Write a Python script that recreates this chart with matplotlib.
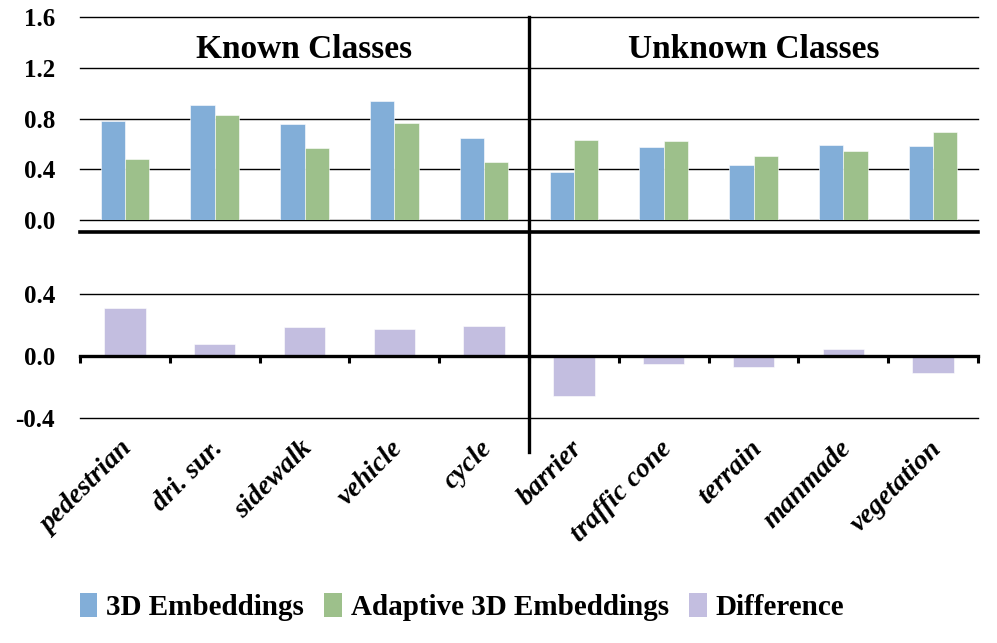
import numpy as np
import matplotlib
matplotlib.use('Agg')
from matplotlib import pyplot as plt
from matplotlib.lines import Line2D
from matplotlib.patches import Patch
import matplotlib.transforms as mtransforms

classes = ['pedestrian', 'dri. sur.', 'sidewalk', 'vehicle', 'cycle',
           'barrier', 'traffic cone', 'terrain', 'manmade', 'vegetation']
emb3d = [0.784, 0.908, 0.758, 0.937, 0.650, 0.376, 0.574, 0.437, 0.589, 0.584]
adaptive = [0.479, 0.826, 0.571, 0.763, 0.458, 0.629, 0.621, 0.503, 0.542, 0.692]
difference = [0.307, 0.080, 0.189, 0.173, 0.192, -0.256, -0.049, -0.068, 0.045, -0.111]
group_names = ['Known Classes', 'Unknown Classes']
top_ticks = [0.0, 0.4, 0.8, 1.2, 1.6]
bot_ticks = [-0.4, 0.0, 0.4]

c_blue = '#82AED8'
c_green = '#9DC08B'
c_purple = '#C3BEE0'

plt.rcParams['font.family'] = ['Liberation Serif', 'DejaVu Serif']
plt.rcParams['font.weight'] = 'bold'

W, H = 997, 643
fig = plt.figure(figsize=(W / 100, H / 100), dpi=100)

def box(x0, y0, x1, y1):
    return [x0 / W, 1 - y1 / H, (x1 - x0) / W, (y1 - y0) / H]

ax_top = fig.add_axes(box(80, 17, 978, 220))
ax_bot = fig.add_axes(box(80, 232, 978, 418))

x = np.arange(len(classes))
bw = 0.27

# top panel
ax_top.bar(x - bw / 2, emb3d, bw, color=c_blue, edgecolor='white', linewidth=0.4, zorder=3)
ax_top.bar(x + bw / 2, adaptive, bw, color=c_green, edgecolor='white', linewidth=0.4, zorder=3)
ax_top.set_xlim(-0.5, len(classes) - 0.5)
ax_top.set_ylim(0, 1.6)
ax_top.set_yticks(top_ticks)
ax_top.set_yticklabels(['%.1f' % v for v in top_ticks])
for v in top_ticks:
    ax_top.axhline(v, color='black', linewidth=1.0, zorder=1, clip_on=False)
ax_top.set_xticks([])
for s in ax_top.spines.values():
    s.set_visible(False)
ax_top.tick_params(axis='y', length=0, pad=18, labelsize=18)

ax_top.text(2.0, 1.34, group_names[0], ha='center', va='center', fontsize=24, fontweight='bold')
ax_top.text(7.0, 1.34, group_names[1], ha='center', va='center', fontsize=24, fontweight='bold')

# bottom panel
ax_bot.bar(x, difference, 0.46, color=c_purple, edgecolor='white', linewidth=0.4, zorder=3)
ax_bot.set_xlim(-0.5, len(classes) - 0.5)
ax_bot.set_ylim(-0.4, 0.8)
ax_bot.set_yticks(bot_ticks)
ax_bot.set_yticklabels(['%.1f' % v for v in bot_ticks])
for v in bot_ticks:
    ax_bot.axhline(v, color='black', linewidth=1.0, zorder=1, clip_on=False)
ax_bot.spines['left'].set_visible(False)
ax_bot.spines['right'].set_visible(False)
ax_bot.spines['top'].set_linewidth(2.6)
ax_bot.spines['bottom'].set_position(('data', 0))
ax_bot.spines['bottom'].set_linewidth(2.4)
ax_bot.spines['bottom'].set_zorder(5)
ax_bot.set_xticks(np.arange(-0.5, len(classes), 1.0))
ax_bot.set_xticklabels([])
ax_bot.tick_params(axis='x', length=5, width=2.2, direction='out')
ax_bot.tick_params(axis='y', length=0, pad=18, labelsize=18)

# rotated category labels
lab_tr = mtransforms.blended_transform_factory(ax_bot.transData, fig.transFigure)
for i, name in enumerate(classes):
    fig.text(i - 0.05, 1 - 436 / H, name, transform=lab_tr, rotation=45,
             rotation_mode='anchor', ha='right', va='top',
             fontsize=20, fontweight='bold', fontstyle='italic')

# divider between known and unknown classes
div_tr = mtransforms.blended_transform_factory(ax_top.transData, fig.transFigure)
fig.add_artist(Line2D([4.5, 4.5], [1 - 17 / H, 1 - 452 / H], transform=div_tr,
                      color='black', linewidth=2.4))

handles = [Patch(facecolor=c_blue), Patch(facecolor=c_green), Patch(facecolor=c_purple)]
fig.legend(handles, ['3D Embeddings', 'Adaptive 3D Embeddings', 'Difference'],
           loc='center', bbox_to_anchor=(462 / W, 1 - 607 / H), ncol=3, frameon=False,
           fontsize=21, handlelength=0.6, handleheight=0.9, handletextpad=0.3,
           columnspacing=0.7)

fig.savefig('out.png', dpi=100)
